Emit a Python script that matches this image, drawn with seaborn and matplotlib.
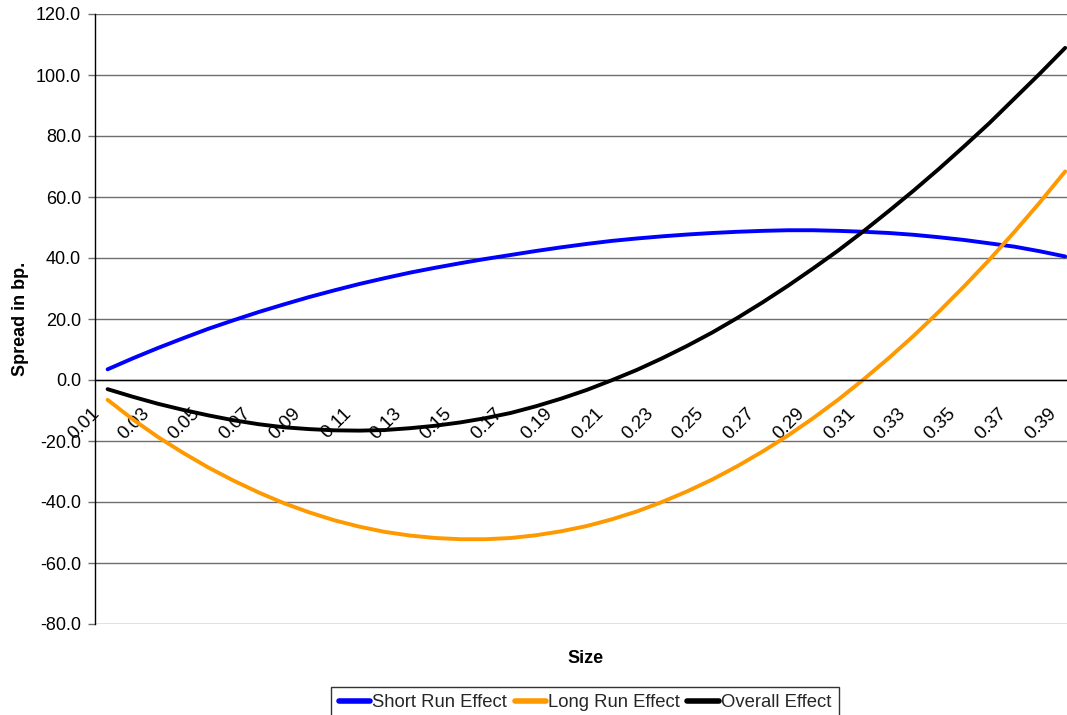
import matplotlib
matplotlib.use("Agg")
import matplotlib.pyplot as plt
import matplotlib.transforms as mtransforms
from matplotlib.lines import Line2D
from matplotlib.ticker import StrMethodFormatter
import numpy as np
import pandas as pd
import seaborn as sns

# category axis: firm size 0.01 .. 0.39
sizes = ["0.01", "0.02", "0.03", "0.04", "0.05", "0.06", "0.07", "0.08", "0.09", "0.10",
         "0.11", "0.12", "0.13", "0.14", "0.15", "0.16", "0.17", "0.18", "0.19", "0.20",
         "0.21", "0.22", "0.23", "0.24", "0.25", "0.26", "0.27", "0.28", "0.29", "0.30",
         "0.31", "0.32", "0.33", "0.34", "0.35", "0.36", "0.37", "0.38", "0.39"]

# spread in bp.
short_run = [3.5, 7.1, 10.5, 13.7, 16.8, 19.6, 22.3, 24.8, 27.2, 29.4,
             31.5, 33.4, 35.2, 36.8, 38.3, 39.7, 41.0, 42.3, 43.5, 44.6,
             45.6, 46.4, 47.1, 47.7, 48.2, 48.6, 48.9, 49.1, 49.1, 48.9,
             48.6, 48.2, 47.6, 46.8, 45.9, 44.8, 43.7, 42.2, 40.5]
long_run = [-6.5, -12.9, -18.7, -23.9, -28.7, -33.0, -36.9, -40.4, -43.4, -46.0,
            -48.1, -49.8, -51.0, -51.8, -52.2, -52.2, -51.8, -50.9, -49.6, -47.9,
            -45.7, -43.1, -40.0, -36.5, -32.6, -28.2, -23.4, -18.2, -12.5, -6.4,
            0.2, 7.2, 14.6, 22.5, 30.8, 39.5, 48.7, 58.3, 68.4]
overall = [-3.0, -5.5, -7.8, -9.8, -11.6, -13.2, -14.5, -15.5, -16.1, -16.5,
           -16.6, -16.4, -15.8, -15.0, -13.9, -12.5, -10.8, -8.6, -6.1, -3.3,
           -0.1, 3.3, 7.1, 11.2, 15.6, 20.4, 25.5, 30.9, 36.6, 42.5,
           48.8, 55.4, 62.2, 69.3, 76.7, 84.3, 92.4, 100.5, 108.9]

series_names = ["Short Run Effect", "Long Run Effect", "Overall Effect"]
colors = {"Short Run Effect": "#0000FF", "Long Run Effect": "#FF9900", "Overall Effect": "#000000"}

sns.set_theme(style="white")
plt.rcParams["font.family"] = ["Liberation Sans", "DejaVu Sans"]
plt.rcParams["axes.unicode_minus"] = False

n = len(sizes)
df = pd.DataFrame({
    "pos": np.tile(np.arange(n), 3),
    "value": short_run + long_run + overall,
    "series": np.repeat(series_names, n),
})

fig = plt.figure(figsize=(10.67, 7.15), dpi=100)
ax = fig.add_axes([95 / 1067, 1 - 624 / 715, 982.8 / 1067, 610 / 715])

sns.lineplot(data=df, x="pos", y="value", hue="series", hue_order=series_names,
             palette=colors, linewidth=2.8, sort=False, legend=False, ax=ax,
             solid_capstyle="round")

ax.set_xlim(-0.5, n - 0.5)
ax.set_ylim(-80, 120)
ax.set_yticks(np.arange(-80, 121, 20))
ax.yaxis.set_major_formatter(StrMethodFormatter("{x:.1f}"))
ax.yaxis.grid(True, color="#6e6e6e", linewidth=1)
ax.xaxis.grid(False)
ax.set_axisbelow(True)

for s in ["top", "right"]:
    ax.spines[s].set_visible(False)
ax.spines["left"].set_color("black")
ax.spines["left"].set_linewidth(1)
ax.spines["bottom"].set_position(("data", 0))
ax.spines["bottom"].set_color("black")
ax.spines["bottom"].set_linewidth(1)

# tick marks between categories, labels on every other category
ax.set_xticks(np.arange(0.5, n - 0.5, 1))
ax.set_xticklabels([])
ax.set_xticks(np.arange(0, n, 2), minor=True)
ax.set_xticklabels(sizes[::2], minor=True, rotation=45, ha="right", va="top")
ax.tick_params(axis="x", which="major", length=4.5, width=1, color="#707070", direction="out")
ax.tick_params(axis="x", which="minor", length=0, pad=18, labelsize=13.5, labelcolor="black")
ax.tick_params(axis="y", length=5, width=1, color="#707070", direction="out", pad=5,
               labelsize=13, labelcolor="black", left=True)
shift = mtransforms.ScaledTranslation(-5 / 100, 0, fig.dpi_scale_trans)
for lab in ax.get_xticklabels(minor=True):
    lab.set_transform(lab.get_transform() + shift)

ax.set_ylabel("Spread in bp.", fontsize=13, fontweight="bold", color="black")
ax.yaxis.set_label_coords(-0.067, 0.5)
ax.set_xlabel("Size", fontsize=13, fontweight="bold", color="black")
ax.xaxis.set_label_coords(0.4986, -0.043)

handles = [Line2D([], [], color=colors[s], linewidth=4, solid_capstyle="round") for s in series_names]
leg = fig.legend(handles, series_names, loc="upper center", bbox_to_anchor=(585 / 1067, 1 - 687 / 715),
                 ncol=3, frameon=True, fancybox=False, edgecolor="black", fontsize=13.3,
                 handlelength=1.7, handletextpad=0.12, columnspacing=0.4,
                 borderpad=0.4, borderaxespad=0)
leg.get_frame().set_linewidth(1)

fig.savefig("out.png", dpi=100)
